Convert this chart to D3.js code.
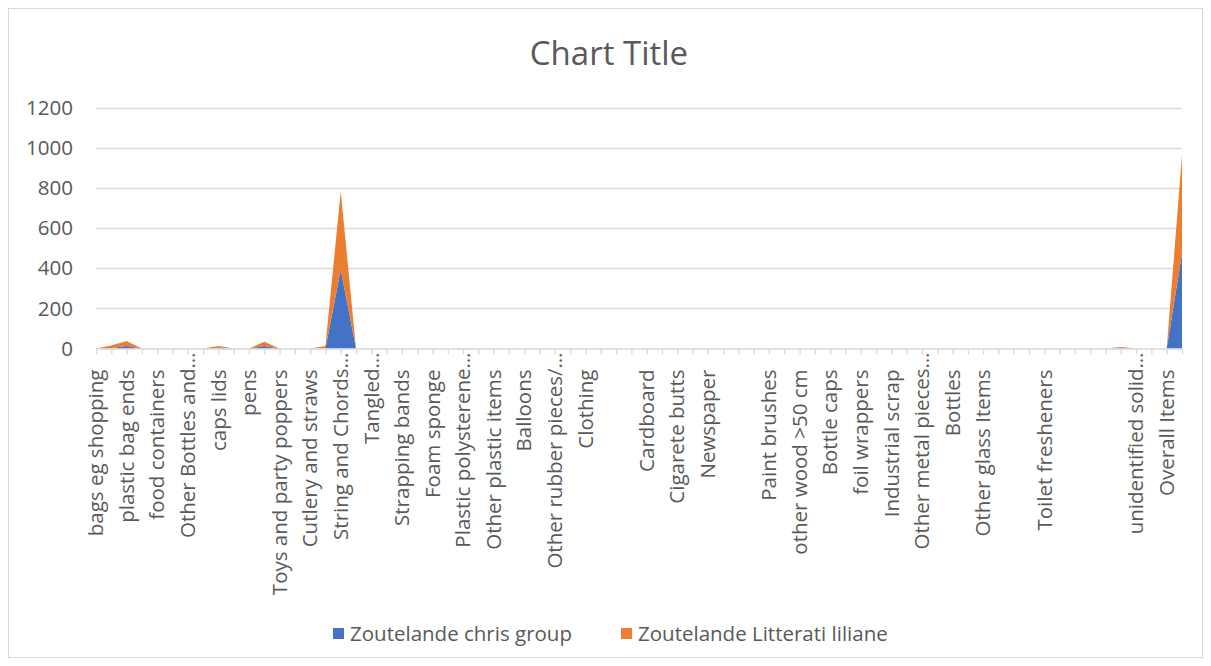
<!DOCTYPE html>
<html>
<head>
<meta charset="utf-8">
<script src="https://cdn.jsdelivr.net/npm/d3@7"></script>
<style>
  html, body { margin: 0; padding: 0; background: #fff; }
  svg { display: block; font-family: "Open Sans", "Segoe UI", sans-serif; }
</style>
</head>
<body>
<svg id="chart" width="1211" height="666"></svg>
<script>
// Litter categories (only every second one gets a visible label on the axis)
const categories = [
  "bags eg shopping", "", "plastic bag ends", "", "food containers", "",
  "Other Bottles and\u2026", "", "caps lids", "", "pens", "",
  "Toys and party poppers", "", "Cutlery and straws", "", "String and Chords\u2026", "",
  "Tangled\u2026", "", "Strapping bands", "", "Foam sponge", "",
  "Plastic polysterene\u2026", "", "Other plastic items", "", "Balloons", "",
  "Other rubber pieces/\u2026", "", "Clothing", "", "", "",
  "Cardboard", "", "Cigarete butts", "", "Newspaper", "",
  "", "", "Paint brushes", "", "other wood >50 cm", "",
  "Bottle caps", "", "foil wrappers", "", "Industrial scrap", "",
  "Other metal pieces\u2026", "", "Bottles", "", "Other glass Items", "",
  "", "", "Toilet fresheners", "", "", "",
  "", "", "unidentified solid\u2026", "", "Overall Items", ""
];

const seriesNames = ["Zoutelande chris group", "Zoutelande Litterati liliane"];

const chrisGroup = [
  0, 3, 12, 0, 0, 0, 0, 0, 4, 0,
  0, 12, 0, 0, 0, 0, 393, 0, 0, 0,
  0, 0, 0, 0, 0, 0, 0, 0, 0, 0,
  0, 0, 0, 0, 0, 0, 0, 0, 0, 0,
  0, 0, 0, 0, 0, 0, 0, 0, 0, 0,
  0, 0, 0, 0, 0, 0, 0, 0, 0, 0,
  0, 0, 0, 0, 0, 0, 0, 2, 0, 0,
  0, 473
];

const litteratiLiliane = [
  0, 12, 25, 0, 0, 0, 0, 0, 8, 0,
  0, 21, 0, 0, 0, 12, 390, 0, 0, 0,
  0, 0, 0, 0, 2, 0, 0, 0, 0, 0,
  0, 0, 0, 0, 0, 0, 0, 0, 0, 0,
  0, 0, 0, 0, 0, 0, 0, 0, 0, 0,
  0, 0, 0, 0, 0, 0, 0, 0, 0, 0,
  0, 0, 0, 0, 0, 0, 0, 5, 0, 0,
  0, 490
];

const yTicks = [0, 200, 400, 600, 800, 1000, 1200];
const colors = ["#4472C4", "#ED7D31"];

const svg = d3.select("#chart");
const W = 1211, H = 666;
const plot = { left: 96, right: 1182, top: 107.5, bottom: 348.5 };
const textColor = "#595959";
const gridColor = "#d9d9d9";
const labelSize = 20.5;

// outer chart border
svg.append("rect")
  .attr("x", 8.5).attr("y", 8.5)
  .attr("width", W - 17).attr("height", H - 17)
  .attr("fill", "#fff").attr("stroke", gridColor).attr("stroke-width", 1);

// title
svg.append("text")
  .attr("x", 609).attr("y", 65)
  .attr("text-anchor", "middle")
  .attr("font-size", 33)
  .attr("fill", textColor)
  .text("Chart Title");

const idx = d3.range(categories.length);
const x = d3.scalePoint().domain(idx).range([plot.left, plot.right]);
const y = d3.scaleLinear().domain([0, 1200]).range([plot.bottom, plot.top]);

// horizontal gridlines
svg.append("g")
  .selectAll("line")
  .data(yTicks.filter(v => v > 0))
  .join("line")
  .attr("x1", plot.left).attr("x2", plot.right)
  .attr("y1", d => Math.round(y(d)) + 0.5).attr("y2", d => Math.round(y(d)) + 0.5)
  .attr("stroke", gridColor).attr("stroke-width", 1.3);

// y-axis labels
svg.append("g")
  .selectAll("text")
  .data(yTicks)
  .join("text")
  .attr("x", 73)
  .attr("y", d => y(d))
  .attr("dy", "0.35em")
  .attr("text-anchor", "end")
  .attr("font-size", labelSize)
  .attr("fill", textColor)
  .text(d => d);

// stacked areas
const rows = idx.map(i => ({ i, a: chrisGroup[i], b: litteratiLiliane[i] }));
const stack = d3.stack().keys(["a", "b"]);
const layers = stack(rows);
const area = d3.area()
  .x(d => x(d.data.i))
  .y0(d => y(d[0]))
  .y1(d => y(d[1]));

svg.append("g")
  .selectAll("path")
  .data(layers)
  .join("path")
  .attr("d", area)
  .attr("fill", (d, k) => colors[k]);

// category axis
const xAxis = d3.axisBottom(x)
  .tickSize(6)
  .tickFormat(() => "");
const gx = svg.append("g")
  .attr("transform", `translate(0,${plot.bottom})`)
  .call(xAxis);
gx.select(".domain").attr("stroke", gridColor).attr("stroke-width", 1.3)
  .attr("d", `M${plot.left},0.5H${plot.right}`);
gx.selectAll(".tick line").attr("stroke", gridColor).attr("stroke-width", 1.3);

// rotated category labels, every second category; truncated names run up to the axis
svg.append("g")
  .selectAll("text")
  .data(idx.filter(i => i % 2 === 0 && categories[i] !== ""))
  .join("text")
  .attr("transform", i => {
    const off = categories[i].endsWith("\u2026") ? 4 : 21;
    return `translate(${x(i)},${plot.bottom + off}) rotate(-90)`;
  })
  .attr("dy", "0.35em")
  .attr("text-anchor", "end")
  .attr("font-size", labelSize)
  .attr("fill", textColor)
  .text(i => categories[i]);

// legend
const legend = svg.append("g");
const legendX = [333, 621];
seriesNames.forEach((name, k) => {
  legend.append("rect")
    .attr("x", legendX[k]).attr("y", 628)
    .attr("width", 11).attr("height", 11)
    .attr("fill", colors[k]);
  legend.append("text")
    .attr("x", legendX[k] + 17).attr("y", 634)
    .attr("dy", "0.35em")
    .attr("font-size", labelSize)
    .attr("fill", textColor)
    .text(name);
});
</script>
</body>
</html>
